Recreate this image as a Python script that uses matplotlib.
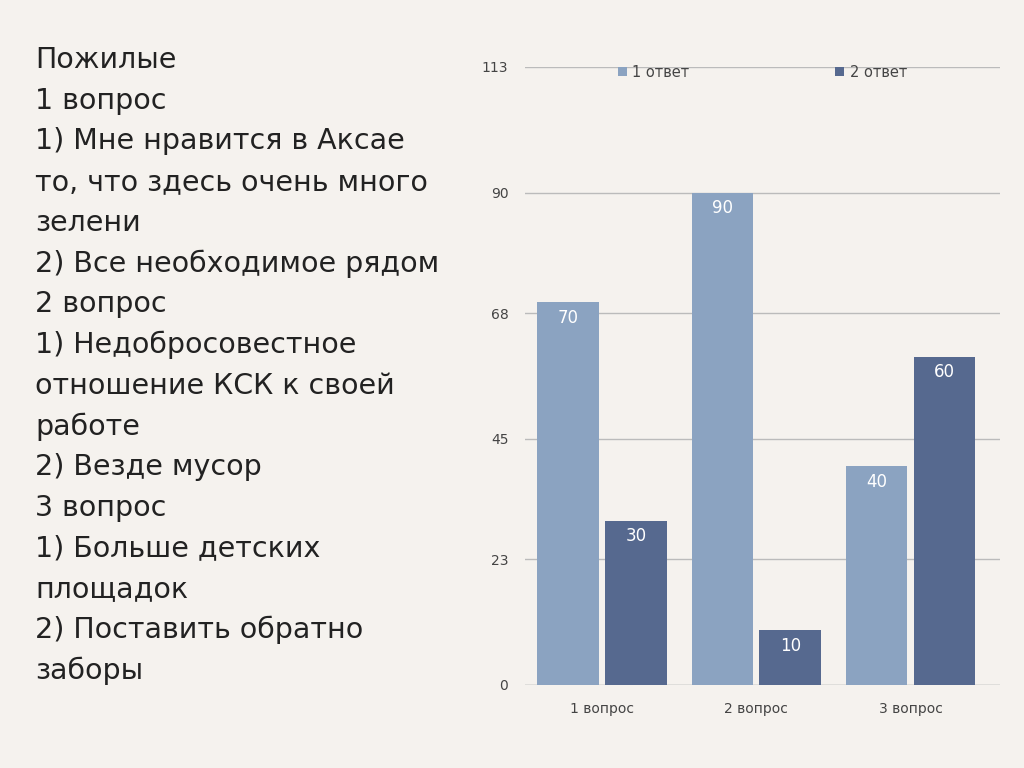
import matplotlib.pyplot as plt
import numpy as np

categories = ["1 вопрос", "2 вопрос", "3 вопрос"]
answer1 = [70, 90, 40]
answer2 = [30, 10, 60]
series_names = ["1 ответ", "2 ответ"]
yticks = [0, 23, 45, 68, 90, 113]
side_text = ["Пожилые", "1 вопрос", "1) Мне нравится в Аксае", "то, что здесь очень много",
             "зелени", "2) Все необходимое рядом", "2 вопрос", "1) Недобросовестное",
             "отношение КСК к своей", "работе", "2) Везде мусор", "3 вопрос",
             "1) Больше детских", "площадок", "2) Поставить обратно", "заборы"]

bg = "#f5f2ee"
c1, c2 = "#8ba3c1", "#56698f"

fig = plt.figure(figsize=(10.24, 7.68), dpi=100, facecolor=bg)
for i, line in enumerate(side_text):
    fig.text(35 / 1024, 1 - (60 + i * 40.7) / 768, line, fontsize=20.5, color="#222222", va="center")

ax = fig.add_axes([525 / 1024, 1 - 685 / 768, 475 / 1024, 618 / 768])
ax.set_facecolor(bg)
x = np.arange(len(categories))
w = 0.4
b1 = ax.bar(x - 0.22, answer1, w, color=c1, label=series_names[0], zorder=2)
b2 = ax.bar(x + 0.22, answer2, w, color=c2, label=series_names[1], zorder=2)
for bars in (b1, b2):
    for r in bars:
        ax.text(r.get_x() + r.get_width() / 2, r.get_height() - 1.2, f"{r.get_height():g}",
                ha="center", va="top", color="white", fontsize=12, zorder=3)

ax.set_xlim(-0.5, 2.58)
ax.set_ylim(0, 113)
ax.set_yticks(yticks)
ax.set_yticklabels([str(t) for t in yticks])
ax.yaxis.grid(True, color="#bbbbbb", linewidth=1, zorder=0)
ax.set_xticks(x)
ax.set_xticklabels(categories)
ax.tick_params(length=0, labelsize=10, colors="#444444")
ax.tick_params(axis="x", pad=12)
ax.tick_params(axis="y", pad=12)
for s in ax.spines.values():
    s.set_visible(False)
ax.axhline(0, color="#bbbbbb", linewidth=1, zorder=1)

leg = ax.legend(loc="upper center", bbox_to_anchor=(0.5, 1.025), ncol=2, frameon=False,
                fontsize=10.5, handlelength=0.6, handleheight=0.6, columnspacing=10,
                handletextpad=0.4, labelcolor="#444444")
plt.savefig("out.png", dpi=100, facecolor=bg)
